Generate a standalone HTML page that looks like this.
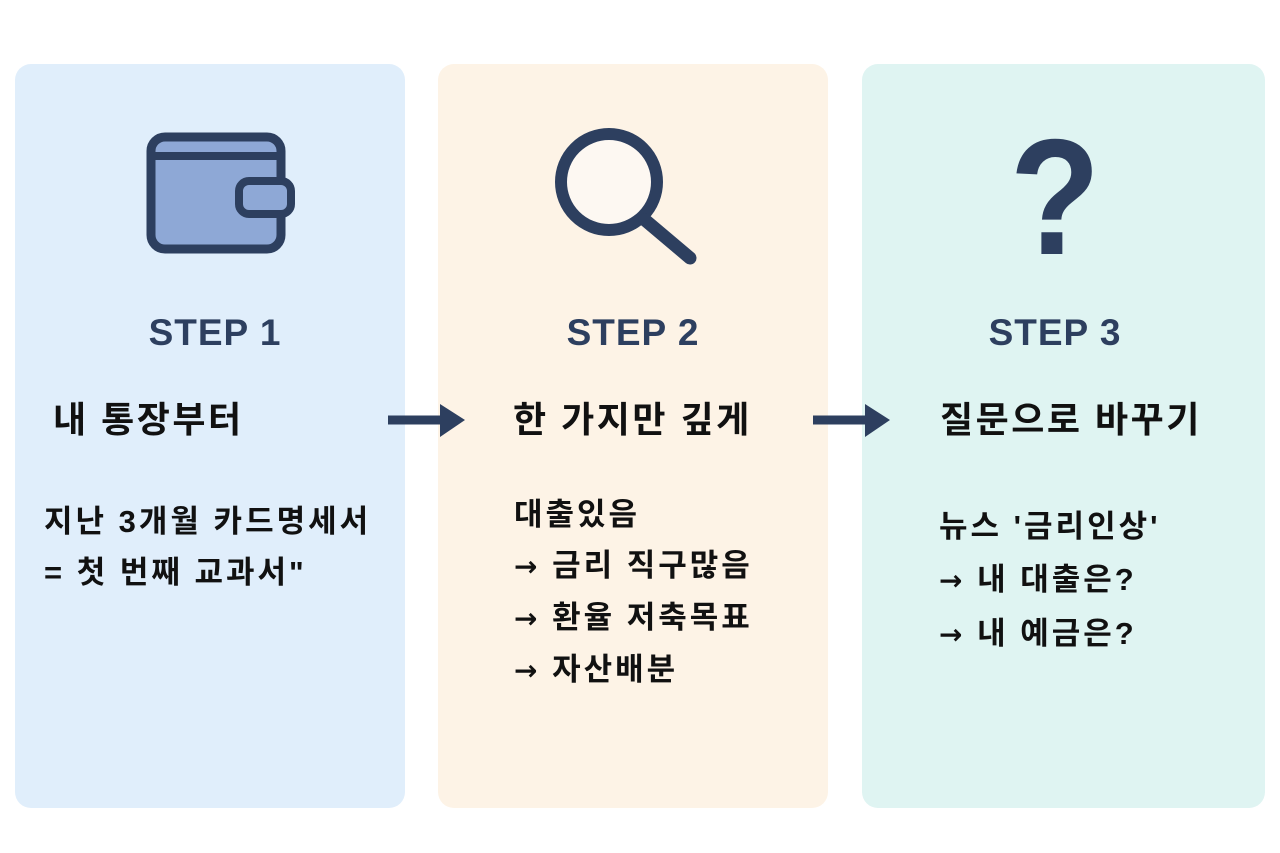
<!DOCTYPE html>
<html><head><meta charset="utf-8"><style>
body{margin:0;width:1280px;height:853px;background:#fff;position:relative;overflow:hidden;font-family:"Liberation Sans","Noto Sans CJK KR",sans-serif}
.p{position:absolute;top:64px;height:744px;border-radius:16px}
.t{position:absolute;white-space:nowrap;font-weight:bold}
.step{font-size:37px;color:#2d3f5f;letter-spacing:1px;transform:translateX(-50%);top:312px}
.h{font-size:36px;color:#111;top:391px;letter-spacing:2.5px}
.b{font-size:31px;color:#111;line-height:51px;letter-spacing:3px}
.a{font-family:"DejaVu Sans",sans-serif;font-weight:bold;font-size:28px}
</style></head><body>
<div class="p" style="left:15px;width:390px;background:#e0eefb"></div>
<div class="p" style="left:438px;width:390px;background:#fdf3e6"></div>
<div class="p" style="left:862px;width:403px;background:#dff4f2"></div>
<svg style="position:absolute;left:0;top:0" width="1280" height="853">
<rect x="151" y="137" width="130" height="112" rx="14" fill="#8ea8d6" stroke="#2d3f5f" stroke-width="9"/>
<line x1="153" y1="156" x2="279" y2="156" stroke="#2d3f5f" stroke-width="8"/>
<rect x="239" y="181" width="52" height="33" rx="10" fill="#8ea8d6" stroke="#2d3f5f" stroke-width="8"/>
<circle cx="609" cy="182" r="48" fill="#fdf8f2" stroke="#2d3f5f" stroke-width="12"/>
<line x1="645" y1="220" x2="690" y2="258" stroke="#2d3f5f" stroke-width="13" stroke-linecap="round"/>
<text x="1055" y="254" text-anchor="middle" font-size="165" font-weight="bold" fill="#2d3f5f" font-family="Liberation Sans" transform="translate(1055 0) scale(0.9 1) translate(-1055 0)">?</text>
<line x1="388" y1="420" x2="445" y2="420" stroke="#2d3f5f" stroke-width="9"/>
<polygon points="440,404 465,420 440,437" fill="#2d3f5f"/>
<line x1="813" y1="420" x2="870" y2="420" stroke="#2d3f5f" stroke-width="9"/>
<polygon points="865,404 890,420 865,437" fill="#2d3f5f"/>
</svg>
<div class="t step" style="left:215px">STEP 1</div>
<div class="t step" style="left:633px">STEP 2</div>
<div class="t step" style="left:1055px">STEP 3</div>
<div class="t h" style="left:53px">내 통장부터</div>
<div class="t h" style="left:513px">한 가지만 깊게</div>
<div class="t h" style="left:940px">질문으로 바꾸기</div>
<div class="t b" style="left:44px;top:496px">지난 3개월 카드명세서<br>= 첫 번째 교과서"</div>
<div class="t b" style="left:514px;top:489px">대출있음<br><span class="a">→</span> 금리 직구많음<br><span class="a">→</span> 환율 저축목표<br><span class="a">→</span> 자산배분</div>
<div class="t b" style="left:939px;top:500px;line-height:53px">뉴스 '금리인상'<br><span class="a">→</span> 내 대출은?<br><span class="a">→</span> 내 예금은?</div>
</body></html>
